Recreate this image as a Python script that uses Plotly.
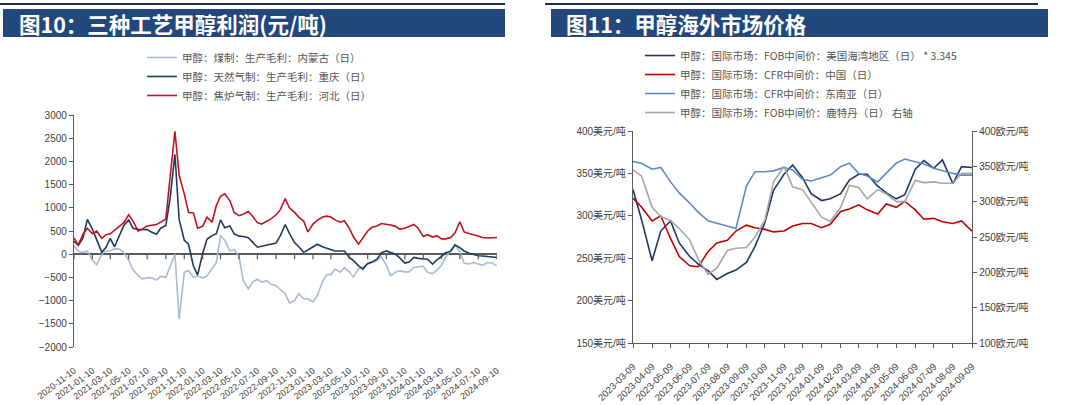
import plotly.graph_objects as go
import pandas as pd

# ---------------- data: left chart (methanol profit, 元/吨) ----------------
left_dates = pd.date_range("2020-11-01", periods=93, freq="SMS") + pd.Timedelta(days=9)

coal_nm = [180, 70, 35, 70, -130, -230, 0, 70, 70, 120,
           110, 30, -130, -330, -460, -530, -510, -510, -560, -480,
           -500, -250, 0, -1400, -390, -350, -500, -470, -510, -470,
           -300, -180, 400, 300, 70, 100, -40, -560, -750, -600,
           -540, -600, -570, -650, -680, -760, -850, -1050, -1000, -850,
           -960, -960, -1030, -900, -600, -440, -440, -320, -390, -290,
           -380, -490, -310, -280, -215, -180, -140, -50, -240, -465,
           -390, -360, -380, -380, -285, -270, -260, -390, -420, -350,
           -240, -70, 100, 200, 50, -190, -210, -180, -220, -240,
           -180, -190, -250]

gas_cq = [280, 190, 350, 750, 540, 300, 40, 150, 340, 160,
          420, 620, 740, 560, 535, 535, 530, 480, 430, 560,
          620, 1200, 2150, 750, 300, 215, -250, -450, 20, 320,
          400, 440, 740, 570, 610, 440, 390, 380, 357, 260,
          150, 170, 200, 215, 240, 400, 640, 450, 250, 160,
          40, 90, 160, 215, 160, 130, 107, 70, 70, 70,
          -70, -140, -250, -320, -200, -170, -107, 30, 70, 35,
          0, -80, -190, -170, -70, -90, -107, -107, -215, -120,
          -50, 30, 60, 200, 140, 70, 20, -10, -35, -40,
          -50, -70, -70]

coke_hb = [350, 200, 430, 560, 440, 500, 340, 420, 440, 520,
           600, 680, 850, 720, 500, 540, 610, 620, 640, 690,
           760, 1650, 2650, 1700, 1300, 900, 890, 560, 600, 800,
           690, 1050, 1250, 1300, 1150, 900, 830, 860, 920, 820,
           680, 650, 715, 760, 850, 960, 1200, 1000, 900, 800,
           715, 480, 650, 730, 800, 820, 800, 740, 690, 720,
           560, 370, 215, 350, 500, 580, 610, 660, 650, 630,
           600, 540, 560, 600, 640, 560, 380, 420, 370, 400,
           330, 330, 357, 460, 700, 480, 440, 420, 390, 360,
           350, 360, 360]

left_names = ["甲醇：煤制：生产毛利：内蒙古（日）",
              "甲醇：天然气制：生产毛利：重庆（日）",
              "甲醇：焦炉气制：生产毛利：河北（日）"]
left_ticks = ["2020-11-10", "2021-01-10", "2021-03-10", "2021-05-10", "2021-07-10",
              "2021-09-10", "2021-11-10", "2022-01-10", "2022-03-10", "2022-05-10",
              "2022-07-10", "2022-09-10", "2022-11-10", "2023-01-10", "2023-03-10",
              "2023-05-10", "2023-07-10", "2023-09-10", "2023-11-10", "2024-01-10",
              "2024-03-10", "2024-05-10", "2024-07-10", "2024-09-10"]
left_yticks = [3000, 2500, 2000, 1500, 1000, 500, 0, -500, -1000, -1500, -2000]

# ---------------- data: right chart (overseas prices) ----------------
right_dates = pd.date_range("2023-03-01", periods=37, freq="SMS") + pd.Timedelta(days=8)

us_gulf = [331, 295, 247, 282, 294, 268, 252, 243, 235, 225,
           232, 236, 245, 264, 292, 330, 349, 360, 345, 326,
           318, 320, 326, 342, 349, 349, 335, 327, 320, 325,
           355, 365, 356, 366, 338, 358, 357]
cfr_china = [321, 310, 294, 300, 273, 252, 241, 240, 258, 268,
             271, 282, 289, 286, 284, 281, 282, 288, 291, 291,
             286, 290, 305, 308, 313, 307, 302, 314, 310, 317,
             307, 296, 297, 293, 291, 294, 282]
cfr_sea = [364, 362, 355, 357, 340, 327, 315, 304, 294, 291,
           288, 285, 335, 352, 352, 353, 357, 354, 343, 341,
           345, 348, 358, 362, 350, 347, 340, 350, 362, 367,
           364, 361, 356, 353, 350, 348, 348]
fob_rtm = [345, 336, 292, 279, 273, 262, 246, 218, 197, 206,
           231, 234, 235, 250, 274, 328, 350, 321, 317, 300,
           278, 272, 292, 323, 320, 304, 317, 311, 300, 300,
           330, 327, 328, 326, 326, 340, 340]

right_names = ["甲醇：国际市场：FOB中间价：美国海湾地区（日） * 3.345",
               "甲醇：国际市场：CFR中间价：中国（日）",
               "甲醇：国际市场：CFR中间价：东南亚（日）",
               "甲醇：国际市场：FOB中间价：鹿特丹（日） 右轴"]
right_ticks = ["2023-03-09", "2023-04-09", "2023-05-09", "2023-06-09", "2023-07-09",
               "2023-08-09", "2023-09-09", "2023-10-09", "2023-11-09", "2023-12-09",
               "2024-01-09", "2024-02-09", "2024-03-09", "2024-04-09", "2024-05-09",
               "2024-06-09", "2024-07-09", "2024-08-09", "2024-09-09"]
usd_ticks = [150, 200, 250, 300, 350, 400]
eur_ticks = [100, 150, 200, 250, 300, 350, 400]

titles = ["图10：三种工艺甲醇利润(元/吨)", "图11：甲醇海外市场价格"]

# ---------------- styling ----------------
W, H = 1069, 405
def fx(p):
    return p / W
def fy(p):
    return 1 - p / H

NUM_FONT = "Liberation Sans, Arial, Noto Sans CJK SC, sans-serif"
CJK_FONT = "Noto Sans CJK SC, sans-serif"
AX = "#595959"
TXT = "#404040"

fig = go.Figure()

left_colors = ["#A3BCDA", "#223A5E", "#C0141E"]
for name, vals, col in zip(left_names, [coal_nm, gas_cq, coke_hb], left_colors):
    fig.add_trace(go.Scatter(x=left_dates, y=vals, name=name, mode="lines",
                             line=dict(color=col, width=1.6),
                             xaxis="x", yaxis="y", legend="legend"))

right_series = [(us_gulf, "#1F3864", "y2", 1.6),
                (cfr_china, "#C00000", "y2", 1.6),
                (cfr_sea, "#5B8ACB", "y2", 1.6),
                (fob_rtm, "#A6A6A6", "y3", 1.6)]
for name, (vals, col, yax, wd) in zip(right_names, right_series):
    fig.add_trace(go.Scatter(x=right_dates, y=vals, name=name, mode="lines",
                             line=dict(color=col, width=wd),
                             xaxis="x2", yaxis=yax, legend="legend2"))

shapes = []
# title bars and top rules
for (bx0, bx1, lx0, lx1) in [(3, 505, 0, 505), (551, 1048, 545, 1038)]:
    shapes.append(dict(type="rect", xref="paper", yref="paper",
                       x0=fx(bx0), x1=fx(bx1), y0=fy(37), y1=fy(9),
                       fillcolor="#22477A", line=dict(width=0), layer="below"))
    shapes.append(dict(type="line", xref="paper", yref="paper",
                       x0=fx(lx0), x1=fx(lx1), y0=fy(4), y1=fy(4),
                       line=dict(color="#1E2D5A", width=2)))
# tick marks hanging below the zero line of the left chart
for t in left_ticks:
    shapes.append(dict(type="line", xref="x", yref="y", ysizemode="pixel", yanchor=0,
                       x0=t, x1=t, y0=0, y1=-5, line=dict(color=AX, width=1.2)))

annotations = []
for txt, x in zip(titles, [17, 564]):
    annotations.append(dict(text="<b>" + txt + "</b>", xref="paper", yref="paper",
                            x=fx(x), y=fy(23.5), xanchor="left", yanchor="middle",
                            showarrow=False,
                            font=dict(family=CJK_FONT, size=21.5, color="white")))

tickfont = dict(family=NUM_FONT, size=10, color=TXT)
xtickfont_l = dict(family=NUM_FONT, size=9, color=TXT)
xtickfont_r = dict(family=NUM_FONT, size=9.5, color=TXT)

fig.update_layout(
    width=W, height=H, margin=dict(l=0, r=0, t=0, b=0, autoexpand=False),
    paper_bgcolor="white", plot_bgcolor="rgba(0,0,0,0)",
    showlegend=True,
    shapes=shapes, annotations=annotations,
    xaxis=dict(domain=[fx(74), fx(497)], anchor="y", type="date", automargin=False,
               range=["2020-11-10", "2024-09-10"],
               tickvals=left_ticks, ticktext=left_ticks, tickangle=-37,
               showline=False, ticks="", showgrid=False, zeroline=False,
               tickfont=xtickfont_l, ticklabelstandoff=16),
    yaxis=dict(domain=[fy(347), fy(115)], anchor="x", range=[-2000, 3000], automargin=False,
               tickvals=left_yticks, showgrid=False,
               showline=True, linecolor=AX, linewidth=1.3,
               ticks="outside", ticklen=4, tickcolor=AX, tickwidth=1.2,
               zeroline=True, zerolinecolor=AX, zerolinewidth=1.5,
               tickfont=tickfont),
    xaxis2=dict(domain=[fx(633), fx(972)], anchor="y2", type="date", automargin=False,
                range=["2023-03-09", "2024-09-09"],
                tickvals=right_ticks, ticktext=right_ticks, tickangle=-45,
                showline=True, linecolor=AX, linewidth=1.3,
                ticks="outside", ticklen=4, tickcolor=AX, tickwidth=1.2,
                showgrid=False, zeroline=False, tickfont=xtickfont_r,
                ticklabelstandoff=9),
    yaxis2=dict(domain=[fy(343), fy(131)], anchor="x2", range=[150, 400], automargin=False,
                tickvals=usd_ticks, ticktext=[f"{v}美元/吨" for v in usd_ticks],
                showline=True, linecolor=AX, linewidth=1.3,
                ticks="outside", ticklen=4, tickcolor=AX, tickwidth=1.2,
                showgrid=False, zeroline=False, tickfont=tickfont),
    yaxis3=dict(overlaying="y2", anchor="x2", side="right", range=[100, 400], automargin=False,
                tickvals=eur_ticks, ticktext=[f"{v}欧元/吨" for v in eur_ticks],
                showline=True, linecolor=AX, linewidth=1.3,
                ticks="outside", ticklen=4, tickcolor=AX, tickwidth=1.2,
                showgrid=False, zeroline=False, tickfont=tickfont),
    legend=dict(x=fx(142), y=fy(43), xanchor="left", yanchor="top",
                bgcolor="rgba(0,0,0,0)", font=dict(family=CJK_FONT, size=10.5, color="#555555"),
                itemwidth=30, tracegroupgap=0),
    legend2=dict(x=fx(640), y=fy(41), xanchor="left", yanchor="top",
                 bgcolor="rgba(0,0,0,0)", font=dict(family=CJK_FONT, size=10.5, color="#555555"),
                 itemwidth=30, tracegroupgap=0),
)

fig.write_html("out.html")
